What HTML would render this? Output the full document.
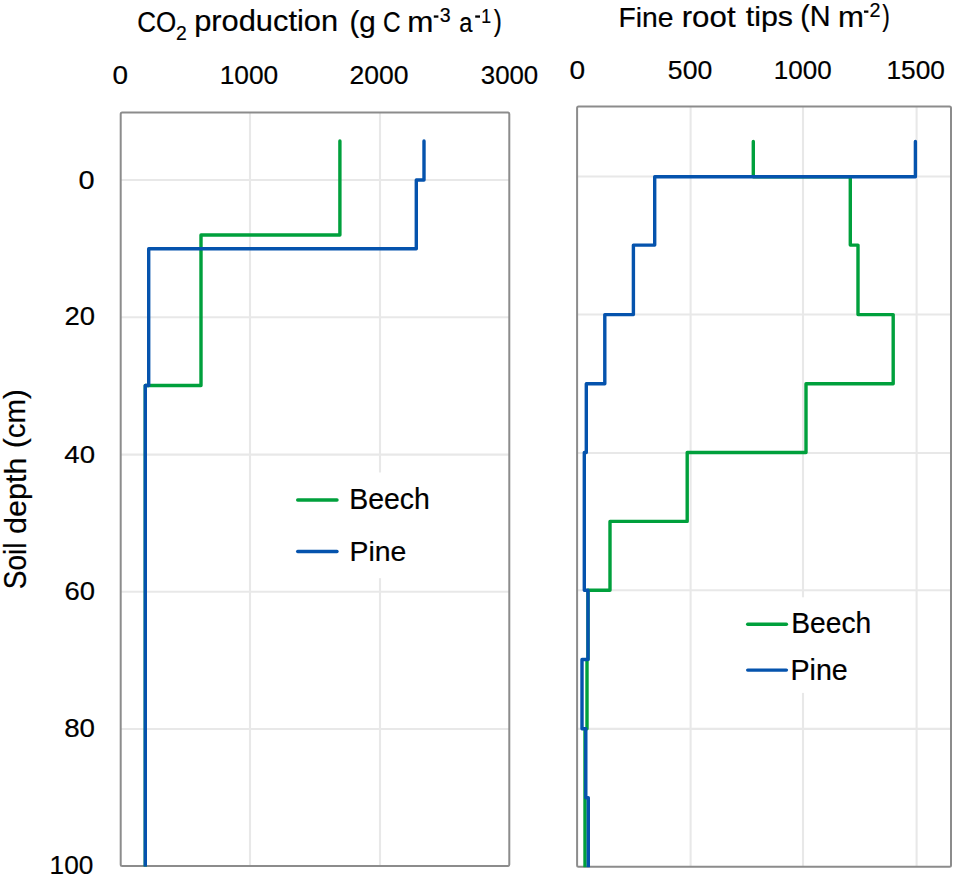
<!DOCTYPE html>
<html><head><meta charset="utf-8"><style>
html,body{margin:0;padding:0;background:#fff;width:955px;height:878px;overflow:hidden}
svg{display:block}
text{font-family:"Liberation Sans",sans-serif;font-size:100px;fill:#000;stroke:#000;stroke-linejoin:round}
</style></head><body>
<svg width="955" height="878" viewBox="0 0 955 878">
<defs><clipPath id="cl"><rect x="0" y="0" width="955" height="866.5"/></clipPath><clipPath id="cr"><rect x="0" y="0" width="955" height="867.2"/></clipPath></defs>
<rect width="955" height="878" fill="#fff"/>
<g stroke="#e8e8e8" stroke-width="2.1" fill="none">
<line x1="250.0" y1="112.5" x2="250.0" y2="866.0"/>
<line x1="380.0" y1="112.5" x2="380.0" y2="866.0"/>
<line x1="120.7" y1="180.0" x2="509.3" y2="180.0"/>
<line x1="120.7" y1="317.3" x2="509.3" y2="317.3"/>
<line x1="120.7" y1="454.6" x2="509.3" y2="454.6"/>
<line x1="120.7" y1="591.8" x2="509.3" y2="591.8"/>
<line x1="120.7" y1="729.0" x2="509.3" y2="729.0"/>
<line x1="690.6" y1="106.4" x2="690.6" y2="866.7"/>
<line x1="803.0" y1="106.4" x2="803.0" y2="866.7"/>
<line x1="916.6" y1="106.4" x2="916.6" y2="866.7"/>
<line x1="577.1" y1="176.5" x2="951.0" y2="176.5"/>
<line x1="577.1" y1="314.5" x2="951.0" y2="314.5"/>
<line x1="577.1" y1="453.0" x2="951.0" y2="453.0"/>
<line x1="577.1" y1="590.2" x2="951.0" y2="590.2"/>
<line x1="577.1" y1="728.9" x2="951.0" y2="728.9"/>
</g>
<g fill="none" stroke="#8c8c8c" stroke-width="2" stroke-linejoin="round">
<rect rx="1.5" x="120.7" y="112.5" width="388.6" height="753.5"/>
<rect rx="1.5" x="577.1" y="106.4" width="373.9" height="760.3"/>
</g>
<rect x="285" y="472.5" width="160" height="105.7" fill="#fff"/>
<rect x="738" y="597.3" width="165" height="95.6" fill="#fff"/>
<g fill="none" stroke-width="3.4" stroke-linejoin="round" stroke-linecap="round">
<g clip-path="url(#cl)">
<polyline stroke="#00a03c" points="339.9,141.0 339.9,235.0 201.0,235.0 201.0,385.5 145.3,385.5 145.3,866.0"/>
<polyline stroke="#0553ad" points="424.0,141.0 424.0,180.0 416.3,180.0 416.3,248.8 148.7,248.8 148.7,385.5 145.3,385.5 145.3,866.0"/>
</g>
<g clip-path="url(#cr)">
<polyline stroke="#00a03c" points="753.3,141.4 753.3,176.7 850.3,176.7 850.3,245.1 858.0,245.1 858.0,314.6 893.2,314.6 893.2,383.7 806.0,383.7 806.0,452.5 687.2,452.5 687.2,521.4 610.0,521.4 610.0,590.3 588.0,590.3 588.0,659.5 587.0,659.5 587.0,728.7 585.0,728.7 585.0,866.7"/>
<polyline stroke="#0553ad" points="915.4,141.4 915.4,176.7 654.7,176.7 654.7,245.1 633.4,245.1 633.4,314.6 604.8,314.6 604.8,383.7 586.3,383.7 586.3,452.5 584.3,452.5 584.3,590.3 588.0,590.3 588.0,659.5 582.0,659.5 582.0,728.7 585.8,728.7 585.8,797.8 588.3,797.8 588.3,866.7"/>
</g>
<line stroke="#00a03c" x1="297.7" y1="500" x2="337" y2="500" stroke-linecap="round"/>
<line stroke="#0553ad" x1="297.7" y1="551.5" x2="337" y2="551.5" stroke-linecap="round"/>
<line stroke="#00a03c" x1="747.7" y1="624.2" x2="786.4" y2="624.2" stroke-linecap="round"/>
<line stroke="#0553ad" x1="747.7" y1="670.1" x2="786.4" y2="670.1" stroke-linecap="round"/>
</g>
<g>
<text transform="matrix(0.26000 0 0 0.30282 137.20 32.30)" stroke-width="0.71">CO</text>
<text transform="matrix(0.19348 0 0 0.21000 176.03 39.50)" stroke-width="0.99">2</text>
<text transform="matrix(0.30837 0 0 0.28936 194.14 31.42)" stroke-width="0.67">production</text>
<text transform="matrix(0.29605 0 0 0.30426 349.42 31.61)" stroke-width="0.67">(g</text>
<text transform="matrix(0.24444 0 0 0.30000 382.88 32.00)" stroke-width="0.73">C</text>
<text transform="matrix(0.31429 0 0 0.29074 407.30 31.70)" stroke-width="0.66">m</text>
<text transform="matrix(0.19574 0 0 0.20845 439.72 22.39)" stroke-width="0.99">3</text>
<text transform="matrix(0.23654 0 0 0.28000 459.25 31.92)" stroke-width="0.77">a</text>
<text transform="matrix(0.17674 0 0 0.20290 481.19 22.60)" stroke-width="1.05">1</text>
<text transform="matrix(0.24231 0 0 0.29468 493.76 31.21)" stroke-width="0.74">)</text>
<rect x="433.8" y="15.4" width="4.6" height="2.3"/>
<rect x="475.2" y="15.4" width="4.8" height="2.3"/>
<text transform="matrix(0.28297 0 0 0.28243 618.44 26.52)" stroke-width="0.71">Fine</text>
<text transform="matrix(0.31273 0 0 0.28923 681.71 26.51)" stroke-width="0.66">root</text>
<text transform="matrix(0.30400 0 0 0.27766 745.69 26.07)" stroke-width="0.69">tips</text>
<text transform="matrix(0.28791 0 0 0.29149 800.27 25.78)" stroke-width="0.69">(N</text>
<text transform="matrix(0.31143 0 0 0.28889 838.02 26.50)" stroke-width="0.67">m</text>
<text transform="matrix(0.19783 0 0 0.19857 869.61 17.00)" stroke-width="1.01">2</text>
<text transform="matrix(0.22692 0 0 0.29468 882.37 25.81)" stroke-width="0.77">)</text>
<rect x="864.0" y="10.5" width="4.4" height="2.3"/>
<text transform="matrix(0.27917 0 0 0.25493 112.38 83.55)" stroke-width="0.75">0</text>
<text transform="matrix(0.26333 0 0 0.25493 219.69 83.55)" stroke-width="0.77">1000</text>
<text transform="matrix(0.26526 0 0 0.25493 349.57 83.55)" stroke-width="0.77">2000</text>
<text transform="matrix(0.25841 0 0 0.25493 480.77 83.55)" stroke-width="0.78">3000</text>
<text transform="matrix(0.28125 0 0 0.25211 569.38 78.85)" stroke-width="0.75">0</text>
<text transform="matrix(0.26604 0 0 0.25211 667.84 78.85)" stroke-width="0.77">500</text>
<text transform="matrix(0.26000 0 0 0.25211 773.82 78.85)" stroke-width="0.78">1000</text>
<text transform="matrix(0.26286 0 0 0.25211 886.50 78.85)" stroke-width="0.78">1500</text>
<text transform="matrix(0.28958 0 0 0.25634 78.54 188.64)" stroke-width="0.73">0</text>
<text transform="matrix(0.27451 0 0 0.25352 64.53 325.25)" stroke-width="0.76">20</text>
<text transform="matrix(0.27619 0 0 0.24789 64.35 463.15)" stroke-width="0.76">40</text>
<text transform="matrix(0.27451 0 0 0.25352 64.53 600.35)" stroke-width="0.76">60</text>
<text transform="matrix(0.27767 0 0 0.25775 64.19 737.14)" stroke-width="0.75">80</text>
<text transform="matrix(0.26258 0 0 0.26338 49.60 874.34)" stroke-width="0.76">100</text>
<text transform="matrix(0.28476 0 0 0.29730 349.22 509.00)" stroke-width="0.69">Beech</text>
<text transform="matrix(0.28404 0 0 0.28514 349.53 561.31)" stroke-width="0.70">Pine</text>
<text transform="matrix(0.28216 0 0 0.29324 791.24 633.01)" stroke-width="0.70">Beech</text>
<text transform="matrix(0.28670 0 0 0.28649 790.41 679.91)" stroke-width="0.70">Pine</text>
<text transform="matrix(0 -0.28065 0.30541 0 26.49 589.30)" stroke-width="0.68">Soil</text>
<text transform="matrix(0 -0.30542 0.28936 0 25.52 534.02)" stroke-width="0.67">depth</text>
<text transform="matrix(0 -0.29415 0.30213 0 25.46 447.96)" stroke-width="0.67">(cm)</text>
</g>
</svg>
</body></html>
